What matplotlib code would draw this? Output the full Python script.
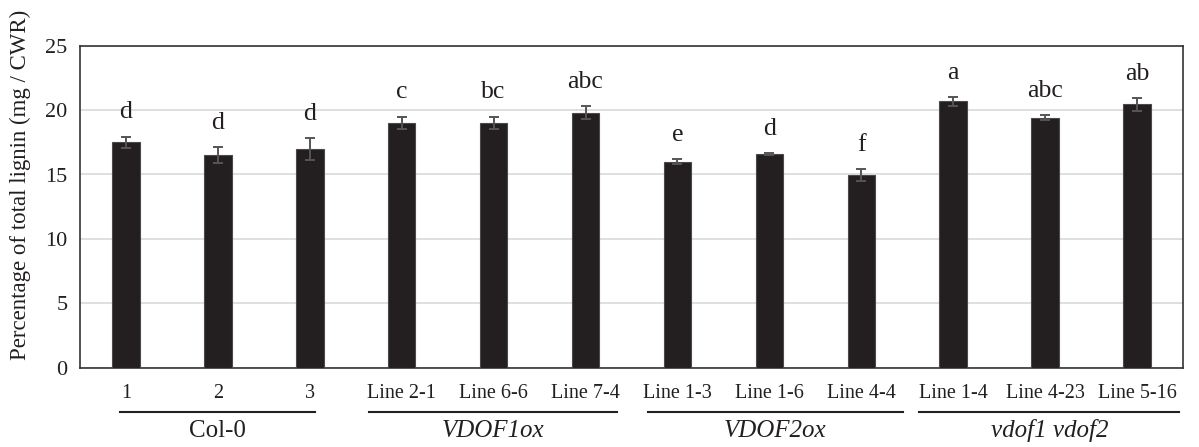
import matplotlib
matplotlib.use("Agg")
import matplotlib.pyplot as plt
import matplotlib.transforms as mtransforms

# ---- data ----
tick_labels = ["1", "2", "3", "Line 2-1", "Line 6-6", "Line 7-4",
               "Line 1-3", "Line 1-6", "Line 4-4", "Line 1-4", "Line 4-23", "Line 5-16"]
values = [17.5, 16.5, 17.0, 19.0, 19.0, 19.8, 16.0, 16.6, 14.95, 20.7, 19.4, 20.45]
errors = [0.45, 0.6, 0.85, 0.5, 0.5, 0.5, 0.22, 0.08, 0.45, 0.35, 0.2, 0.5]
letters = ["d", "d", "d", "c", "bc", "abc", "e", "d", "f", "a", "abc", "ab"]
group_names = ["Col-0", "VDOF1ox", "VDOF2ox", "vdof1 vdof2"]
group_italic = [False, True, True, True]

# layout of the group underline spans (in category units)
group_spans = [(-0.06, 2.06), (2.64, 5.34), (5.68, 8.45), (8.63, 11.46)]

plt.rcParams["font.family"] = ["Liberation Serif", "DejaVu Serif"]

fig = plt.figure(figsize=(11.99, 4.47), dpi=100)
ax = fig.add_axes([80/1199, 1-367.7/447, (1183-80)/1199, (367.7-45.7)/447])

x = list(range(len(values)))
ax.bar(x, values, width=0.30, color="#231f20", edgecolor="#4a4a4a", linewidth=0.8, zorder=3)
ax.errorbar(x, values, yerr=errors, fmt="none", ecolor="#555555", elinewidth=1.4,
            capsize=3.5, capthick=1.4, zorder=4)

for xi, v, e, t in zip(x, values, errors, letters):
    ax.annotate(t, (xi, v + e), xytext=(0, 13), textcoords="offset points",
                ha="center", va="baseline", fontsize=18.5, color="#231f20")

ax.set_xlim(-0.5, len(values) - 0.5)
ax.set_ylim(0, 25)
ax.set_yticks([0, 5, 10, 15, 20, 25])
ax.yaxis.grid(True, color="#d9d9d9", linewidth=1.2, zorder=0)
ax.set_axisbelow(True)
ax.tick_params(axis="y", length=0, pad=9, labelsize=16, colors="#231f20")
ax.tick_params(axis="x", length=0, pad=12, labelsize=14.5, colors="#231f20")
ax.set_xticks(x)
ax.set_xticklabels(tick_labels)
for s in ax.spines.values():
    s.set_color("#333333")
    s.set_linewidth(1.2)

trans = mtransforms.blended_transform_factory(ax.transData, ax.transAxes)
line_y = (367.7 - 411.7) / 322.0
label_y = (367.7 - 431.0) / 322.0
for name, ital, (a, b) in zip(group_names, group_italic, group_spans):
    ax.plot([a, b], [line_y, line_y], transform=trans, color="#231f20", lw=1.5,
            clip_on=False)
    ax.text((a + b) / 2, label_y, name, transform=trans, ha="center", va="center",
            fontsize=18, style="italic" if ital else "normal", color="#231f20")

fig.text(20/1199, 1-185/447, "Percentage of total lignin (mg / CWR)", rotation=90,
         ha="center", va="center", fontsize=16.5, color="#231f20")

fig.savefig("out.png", dpi=100)
